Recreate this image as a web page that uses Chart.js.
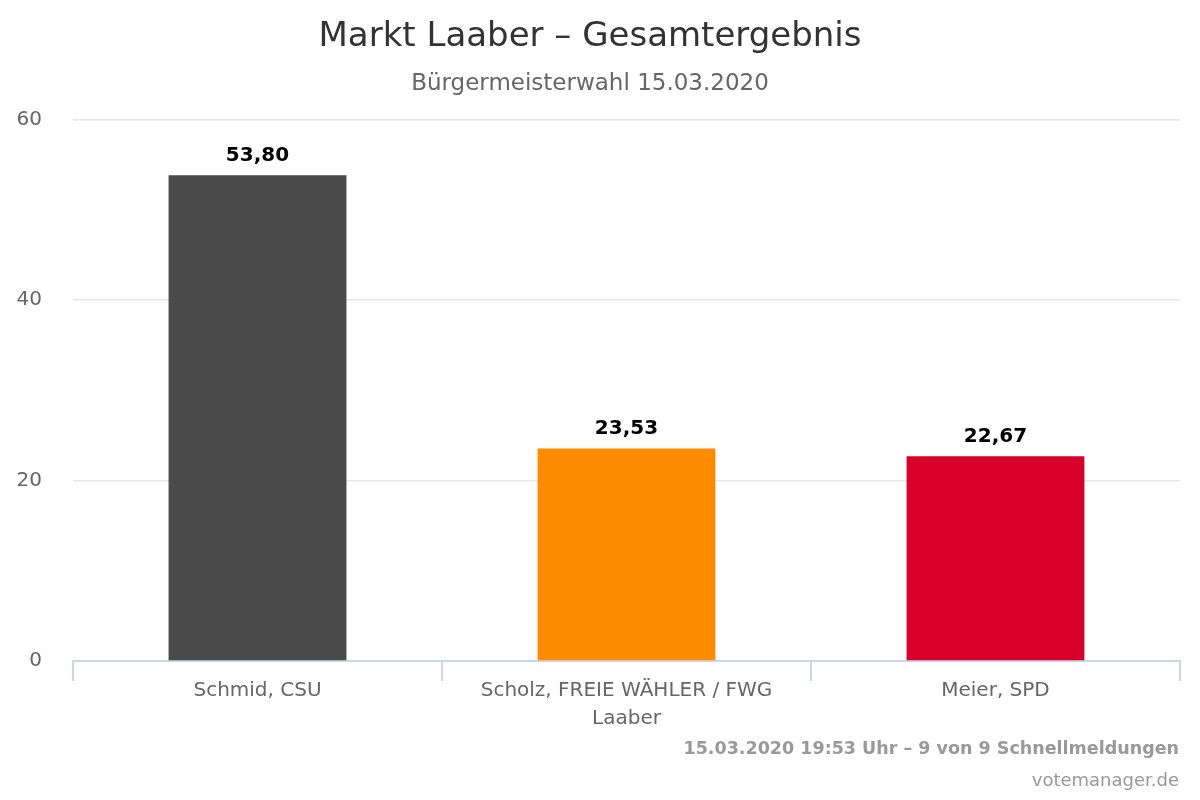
<!DOCTYPE html>
<html>
<head>
<meta charset="utf-8">
<script src="https://cdn.jsdelivr.net/npm/chart.js@4"></script>
<style>
  html, body { margin: 0; padding: 0; background: #fff; }
  #wrap { width: 1200px; height: 800px; }
</style>
</head>
<body>
<div id="wrap"><canvas id="chart"></canvas></div>
<script>
"use strict";

// Data
const candidates = ["Schmid, CSU", ["Scholz, FREIE WÄHLER / FWG", "Laaber"], "Meier, SPD"];
const percents = [53.80, 23.53, 22.67];
const barColors = ["#4a4a4a", "#ff8c00", "#d7002a"];
const yTicks = [0, 20, 40, 60];

const titleText = "Markt Laaber – Gesamtergebnis";
const subtitleText = "Bürgermeisterwahl 15.03.2020";
const footerLines = ["15.03.2020 19:53 Uhr – 9 von 9 Schnellmeldungen", "votemanager.de"];

const font = "'DejaVu Sans', Verdana, sans-serif";

// Draws the value above each bar, german decimal comma
const valueLabels = {
  id: "valueLabels",
  afterDatasetsDraw(chart) {
    const ctx = chart.ctx;
    const meta = chart.getDatasetMeta(0);
    ctx.save();
    ctx.font = "bold 20px " + font;
    ctx.fillStyle = "#000";
    ctx.textAlign = "center";
    ctx.textBaseline = "bottom";
    meta.data.forEach((bar, i) => {
      const txt = percents[i].toFixed(2).replace(".", ",");
      ctx.fillText(txt, bar.x, bar.y - 10);
    });
    ctx.restore();
  },
};

// Footer text in the bottom right corner
const footer = {
  id: "footer",
  afterDraw(chart) {
    const ctx = chart.ctx;
    ctx.save();
    ctx.textAlign = "right";
    ctx.textBaseline = "alphabetic";
    ctx.fillStyle = "#999";
    ctx.font = "bold 17.5px " + font;
    ctx.fillText(footerLines[0], 1179, 754);
    ctx.font = "18px " + font;
    ctx.fillText(footerLines[1], 1179, 786);
    ctx.restore();
  },
};

const ctx = document.getElementById("chart").getContext("2d");
const chart = new Chart(ctx, {
  type: "bar",
  data: {
    labels: candidates,
    datasets: [
      {
        data: percents,
        backgroundColor: barColors,
        borderWidth: 0,
        categoryPercentage: 1,
        barPercentage: 0.482,
      },
    ],
  },
  options: {
    responsive: true,
    maintainAspectRatio: false,
    animation: false,
    layout: {
      padding: { left: 0, right: 20, top: 0, bottom: 71 },
    },
    scales: {
      x: {
        grid: {
          display: true,
          offset: true,
          drawOnChartArea: false,
          color: "#ccd6eb",
          tickLength: 20,
          lineWidth: 2,
        },
        border: { display: true, color: "#ccd6eb", width: 2 },
        ticks: {
          color: "#666",
          font: { family: font, size: 20, lineHeight: 1.4 },
          padding: -4,
          maxRotation: 0,
          autoSkip: false,
        },
      },
      y: {
        min: 0,
        max: 60,
        afterBuildTicks(axis) {
          axis.ticks = yTicks.map((v) => ({ value: v }));
        },
        afterFit(axis) {
          axis.width = 73;
        },
        grid: {
          color: "#e6e6e6",
          lineWidth: 1.5,
          drawTicks: false,
        },
        border: { display: false },
        ticks: {
          color: "#666",
          font: { family: font, size: 20 },
          padding: 31,
        },
      },
    },
    plugins: {
      legend: { display: false },
      tooltip: { enabled: false },
      title: {
        display: true,
        text: titleText,
        color: "#333",
        font: { family: font, size: 34, weight: "normal" },
        padding: { top: 17, bottom: 12 },
      },
      subtitle: {
        display: true,
        text: subtitleText,
        color: "#666",
        font: { family: font, size: 23, weight: "normal" },
        padding: { top: 0, bottom: 22 },
      },
    },
  },
  plugins: [valueLabels, footer],
});
</script>
</body>
</html>
